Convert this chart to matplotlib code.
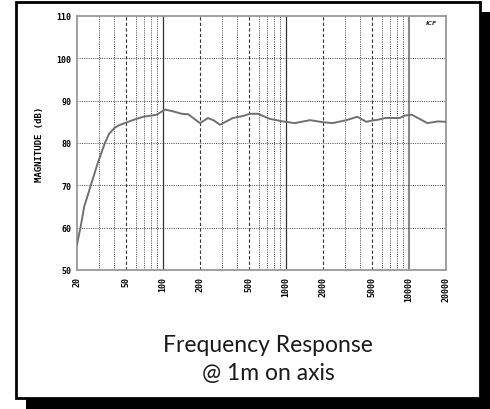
import numpy as np
import matplotlib.pyplot as plt
from matplotlib.patches import Rectangle

# frequency response
freq = [20, 21.35, 22.9, 25.9, 29.3, 33.7, 36.5, 40.5, 44, 50, 58, 69, 81, 89,
        95, 104, 120, 142, 160, 200, 232, 260, 290, 370, 450, 510, 590, 740,
        940, 1180, 1570, 2000, 2400, 3100, 3800, 4500, 5000, 5600, 6400, 8400,
        9300, 10500, 12000, 14100, 17200, 20000]
mag = [56.1, 60, 65, 70, 75, 80, 82.2, 83.6, 84.2, 84.8, 85.5, 86.2, 86.5,
       86.7, 87.2, 87.9, 87.5, 86.9, 86.8, 84.7, 85.9, 85.3, 84.3, 85.9, 86.4,
       86.9, 86.9, 85.7, 85.1, 84.7, 85.4, 84.9, 84.7, 85.4, 86.2, 85.0, 85.3,
       85.5, 85.9, 85.9, 86.5, 86.7, 85.8, 84.7, 85.1, 85.0]

xticks = [20, 50, 100, 200, 500, 1000, 2000, 5000, 10000, 20000]
yticks = [50, 60, 70, 80, 90, 100, 110]

W, H = 490, 410
fig = plt.figure(figsize=(W / 100, H / 100), dpi=100)

# shadow + white frame
bg = fig.add_axes([0, 0, 1, 1])
bg.set_xlim(0, W)
bg.set_ylim(H, 0)
bg.axis('off')
bg.add_patch(Rectangle((26, 13), 464, 397, facecolor='black', edgecolor='none'))
bg.add_patch(Rectangle((16, 3), 464, 396, facecolor='white', edgecolor='black', lw=2))

# plot area in pixels
x0, x1, y0, y1 = 77, 446, 17, 271
ax = fig.add_axes([x0 / W, (H - y1) / H, (x1 - x0) / W, (y1 - y0) / H])
ax.set_xscale('log')
ax.set_xlim(20, 20000)
ax.set_ylim(50, 110)

# vertical grid: decades solid, 2 and 5 dashed, rest dotted
for dec in [10, 100, 1000, 10000]:
    for m in range(1, 10):
        f = dec * m
        if f <= 20 or f >= 20000:
            continue
        if m == 1:
            if f == 10000:
                ax.axvline(f, color='#888888', lw=1.5, zorder=1)
            else:
                ax.axvline(f, color='#333333', lw=0.9, zorder=1)
        elif m in (2, 5):
            ax.axvline(f, color='#333333', lw=0.8, ls=(0, (3, 2)), zorder=1)
        else:
            ax.axvline(f, color='#444444', lw=0.7, ls=(0, (1, 1.3)), zorder=1)
for yv in yticks[1:-1]:
    ax.axhline(yv, color='#444444', lw=0.7, ls=(0, (1, 1.3)), zorder=1)

ax.plot(freq, mag, color='#707070', lw=1.4, zorder=3)

ax.set_xticks(xticks)
ax.set_xticklabels([str(t) for t in xticks], rotation=90, va='top',
                   fontsize=6, fontweight='bold', family='DejaVu Sans Mono')
ax.minorticks_off()
ax.set_yticks(yticks)
ax.set_yticklabels([str(t) for t in yticks], fontsize=6, fontweight='bold',
                   family='DejaVu Sans Mono')
ax.tick_params(length=0, pad=4)
ax.set_ylabel('MAGNITUDE (dB)', fontsize=6.5, fontweight='bold',
              family='DejaVu Sans Mono', labelpad=9)
for s in ax.spines.values():
    s.set_color('#999999')
    s.set_linewidth(1.3)

# small logo top right
ax.text(0.975, 0.985, 'ICF', transform=ax.transAxes, ha='right', va='top',
        fontsize=4.5, style='italic', fontweight='bold', color='#333333')

# caption
bg.text(268, 352, 'Frequency Response', ha='center', va='baseline',
        fontsize=16.5, family='Lato', color='#1a1a1a')
bg.text(268, 380, '@ 1m on axis', ha='center', va='baseline',
        fontsize=16.5, family='Lato', color='#1a1a1a')

fig.savefig('out.png', dpi=100)
